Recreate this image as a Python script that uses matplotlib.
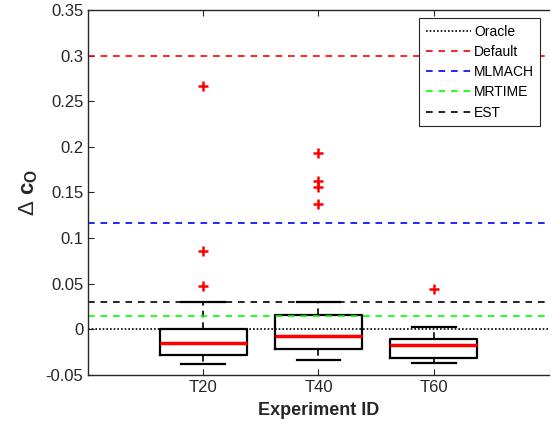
import matplotlib
matplotlib.use('Agg')
import matplotlib.pyplot as plt

plt.rcParams['font.family'] = ['Liberation Sans', 'DejaVu Sans']
plt.rcParams['mathtext.fontset'] = 'custom'
plt.rcParams['mathtext.rm'] = 'Liberation Sans'
plt.rcParams['mathtext.bf'] = 'Liberation Sans:bold'

# box statistics
experiments = ['T20', 'T40', 'T60']
medians = [-0.0152, -0.0071, -0.0167]
q1 = [-0.0277, -0.0218, -0.0310]
q3 = [0.0002, 0.0156, -0.0108]
whis_lo = [-0.0383, -0.0335, -0.0365]
whis_hi = [0.0303, 0.0295, 0.0030]
fliers = [[0.267, 0.0855, 0.048],
          [0.193, 0.163, 0.156, 0.137],
          [0.0445]]

# reference levels
ref_names = ['Oracle', 'Default', 'MLMACH', 'MRTIME', 'EST']
ref_values = [0.0, 0.3, 0.1165, 0.0148, 0.0302]
ref_colors = ['black', '#ff0000', '#0000ff', '#00ff00', 'black']

gray = '#262626'

fig = plt.figure(figsize=(5.51, 4.33), dpi=100)
ax = fig.add_axes([0.16, 0.134, 0.836, 0.843])

stats = []
for i, name in enumerate(experiments):
    stats.append({'label': name, 'med': medians[i], 'q1': q1[i], 'q3': q3[i],
                  'whislo': whis_lo[i], 'whishi': whis_hi[i], 'fliers': fliers[i]})

ax.bxp(stats, positions=[1, 2, 3], widths=0.76,
       boxprops=dict(color='black', linewidth=1.6),
       medianprops=dict(color='#ff0000', linewidth=2.5),
       whiskerprops=dict(color='black', linewidth=1.2, linestyle=(0, (4, 3))),
       capprops=dict(color='black', linewidth=1.6),
       flierprops=dict(marker='+', markeredgecolor='#ff0000', markersize=7,
                       markeredgewidth=1.8, linestyle='none'),
       capwidths=0.38, manage_ticks=False)

for name, val, col in zip(ref_names, ref_values, ref_colors):
    if name == 'Oracle':
        ax.axhline(val, color=col, linewidth=1.2, dashes=(1, 1.2), label=name)
    else:
        ax.axhline(val, color=col, linewidth=1.2, dashes=(4, 3.5), label=name)

ax.set_xlim(0, 4)
ax.set_ylim(-0.05, 0.35)
ax.set_xticks([1, 2, 3])
ax.set_xticklabels(experiments)
ax.set_yticks([-0.05, 0, 0.05, 0.1, 0.15, 0.2, 0.25, 0.3, 0.35])
ax.set_yticklabels(['-0.05', '0', '0.05', '0.1', '0.15', '0.2', '0.25', '0.3', '0.35'])
ax.tick_params(direction='in', colors=gray, labelsize=12, length=4, top=True)
ax.spines['right'].set_visible(False)
for s in ['left', 'bottom', 'top']:
    ax.spines[s].set_color(gray)
    ax.spines[s].set_linewidth(1.0)

ax.set_xlabel('Experiment ID', fontsize=13, fontweight='bold', color=gray, labelpad=5)
ax.set_ylabel('$\\Delta$ c$_\\mathbf{O}$', fontsize=16, fontweight='bold', color=gray, labelpad=4)

leg = ax.legend(loc='upper right', fontsize=10, handlelength=3.3, handletextpad=0.2,
                borderaxespad=0.6, fancybox=False, framealpha=1, labelspacing=0.45,
                borderpad=0.45)
leg.get_frame().set_edgecolor(gray)
leg.get_frame().set_linewidth(0.8)

fig.savefig('out.png', dpi=100)
